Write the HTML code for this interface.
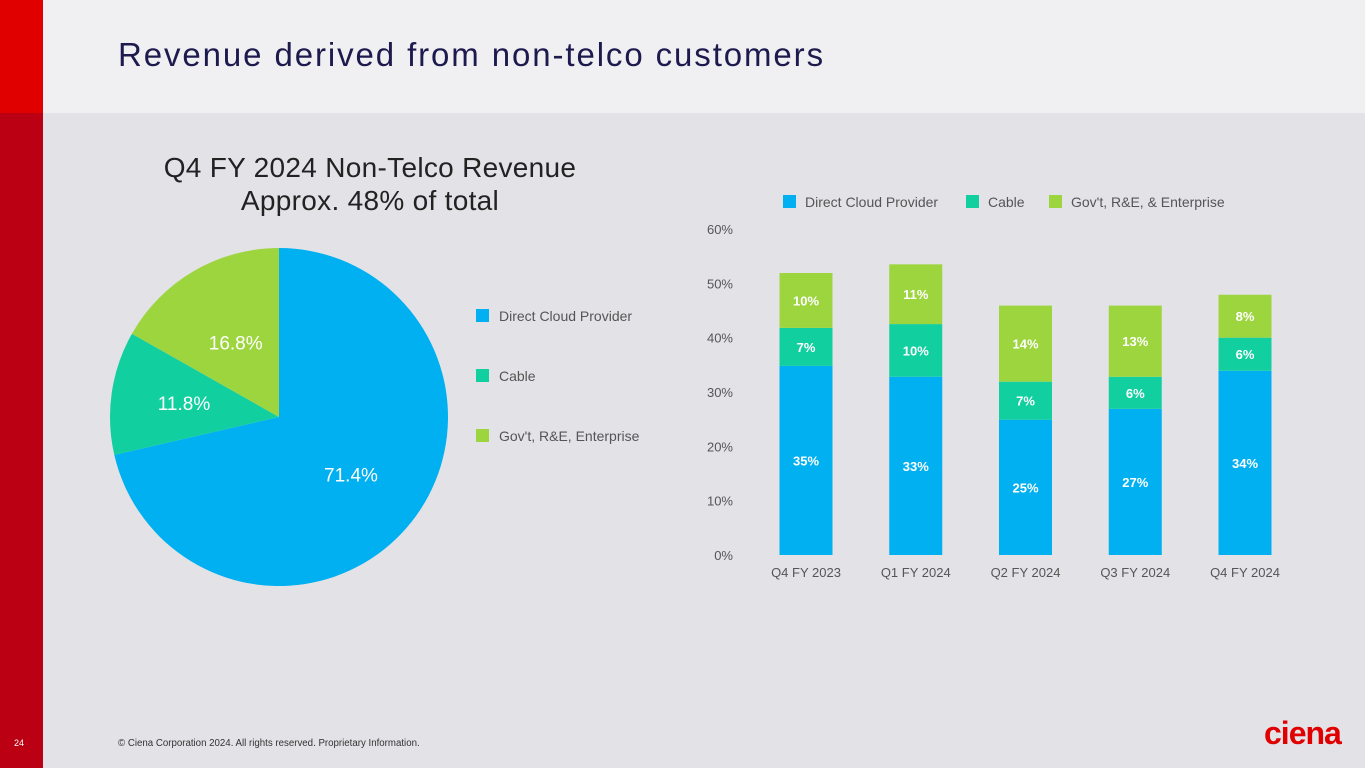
<!DOCTYPE html>
<html><head><meta charset="utf-8"><style>
body{margin:0;width:1365px;height:768px;overflow:hidden;background:#e3e2e6;font-family:"Liberation Sans",sans-serif;position:relative}
.abs{position:absolute}
</style></head><body>
<div class="abs" style="left:0;top:0;width:1365px;height:113px;background:#f0f0f2"></div>
<div class="abs" style="left:0;top:0;width:43px;height:113px;background:#e00000"></div>
<div class="abs" style="left:0;top:113px;width:43px;height:655px;background:#bb0013"></div>
<div class="abs" style="left:118px;top:36px;font-size:33px;color:#1d1a4e;letter-spacing:1.9px">Revenue derived from non-telco customers</div>
<div class="abs" style="left:14px;top:738px;font-size:9px;color:#fff">24</div>
<div class="abs" style="left:118px;top:738px;font-size:9.7px;color:#333">© Ciena Corporation 2024. All rights reserved. Proprietary Information.</div>
<div class="abs" style="left:1264px;top:715px;font-size:32px;font-weight:bold;color:#e00000;letter-spacing:-1px">ciena</div>
<svg class="abs" style="left:0;top:0" width="1365" height="768" id="chart" font-family="Liberation Sans, sans-serif"></svg>
<script>
const pieCats=["Direct Cloud Provider","Cable","Gov't, R&E, Enterprise"];
const pieVals=[71.4,11.8,16.8];
const colors=["#00b0f0","#12cfa0","#9dd53f"];
const quarters=["Q4 FY 2023","Q1 FY 2024","Q2 FY 2024","Q3 FY 2024","Q4 FY 2024"];
const cloud=[34.8,32.8,24.9,26.9,33.9];
const cable=[7,9.7,7,5.9,6.1];
const gov=[10.1,11,14,13.1,7.9];
const cloudLbl=["35%","33%","25%","27%","34%"];
const cableLbl=["7%","10%","7%","6%","6%"];
const govLbl=["10%","11%","14%","13%","8%"];
const yTicks=[0,10,20,30,40,50,60];
const barLegend=["Direct Cloud Provider","Cable","Gov't, R&E, & Enterprise"];
const svg=document.getElementById('chart');
const NS="http://www.w3.org/2000/svg";
function mk(t,a,txt){const e=document.createElementNS(NS,t);for(const k in a)e.setAttribute(k,a[k]);if(txt!==undefined)e.textContent=txt;svg.appendChild(e);return e;}
// pie
let t=mk('text',{x:370,y:177,'font-size':28,fill:'#222','text-anchor':'middle','letter-spacing':'0.3'},'Q4 FY 2024 Non-Telco Revenue');

t=mk('text',{x:370,y:210,'font-size':28,fill:'#222','text-anchor':'middle','letter-spacing':'0.3'},'Approx. 48% of total');

const cx=279,cy=417,r=169;
const labelR=[92,96,86];
const tot=pieVals.reduce((a,b)=>a+b,0);
let a0=0;
pieVals.forEach((v,i)=>{
 const a1=a0+v/tot*2*Math.PI;
 const p=(a)=>[cx+r*Math.sin(a),cy-r*Math.cos(a)];
 const [x0,y0]=p(a0),[x1,y1]=p(a1);
 const s=mk('path',{d:`M${cx},${cy}L${x0},${y0}A${r},${r} 0 ${a1-a0>Math.PI?1:0} 1 ${x1},${y1}Z`,fill:colors[i]});
 
 const am=(a0+a1)/2, lr=labelR[i];
 const l=mk('text',{x:cx+lr*Math.sin(am),y:cy-lr*Math.cos(am)+7,'font-size':19,fill:'#fff','text-anchor':'middle'},pieVals[i].toFixed(1)+'%');
 
 a0=a1;
});
pieCats.forEach((c,i)=>{
 const y=316+i*60;
 const s=mk('rect',{x:476,y:y-7,width:13,height:13,fill:colors[i]});
 
 const l=mk('text',{x:499,y:y+5,'font-size':14,fill:'#555'},c);
 
});
// bar chart
const y0p=555,pp=(555-229)/60;
const Y=v=>y0p-v*pp;
const X=i=>806+i*109.75;
yTicks.forEach(v=>{const l=mk('text',{x:733,y:Y(v)+5,'font-size':13,fill:'#555','text-anchor':'end'},v+'%');
 });
const series=[cloud,cable,gov],labels=[cloudLbl,cableLbl,govLbl];
quarters.forEach((q,i)=>{
 let base=0;
 series.forEach((s,k)=>{
  const v=s[i];
  const b=mk('rect',{x:X(i)-26.5,y:Y(base+v),width:53,height:v*pp,fill:colors[k]});
  
  const l=mk('text',{x:X(i),y:Y(base+v/2)+5,'font-size':13,'font-weight':'bold',fill:'#fff','text-anchor':'middle'},labels[k][i]);
  
  base+=v;
 });
 const l=mk('text',{x:X(i),y:577,'font-size':13,fill:'#555','text-anchor':'middle'},q);
 
});
const lx=[783,966,1049];
barLegend.forEach((c,i)=>{
 const s=mk('rect',{x:lx[i],y:195,width:13,height:13,fill:colors[i]});
 
 const l=mk('text',{x:lx[i]+22,y:207,'font-size':14,fill:'#555'},c);
 
});
</script>
</body></html>
